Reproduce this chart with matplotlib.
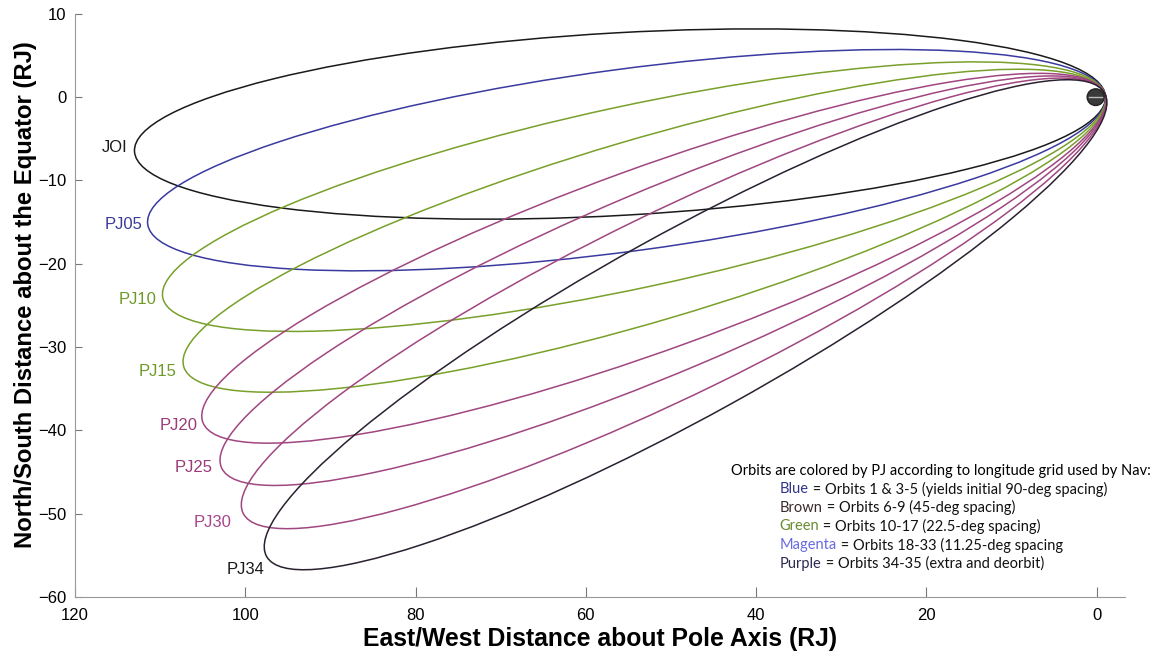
import numpy as np
import matplotlib.pyplot as plt
from matplotlib.patches import Ellipse, Circle

# orbites (apojove, perijove ~1.06 RJ)
orbit_labels = ['JOI', 'PJ05', 'PJ10', 'PJ15', 'PJ20', 'PJ25', 'PJ30', 'PJ34']
apojove_rj = [113.2, 112.5, 112.3, 112.0, 112.0, 112.0, 112.0, 112.0]
apojove_angle_deg = [3.3, 7.8, 12.4, 16.8, 20.4, 23.4, 26.5, 29.5]   # sous l'equateur
perijove_rj = 1.06

x_ticks = [120, 100, 80, 60, 40, 20, 0]
y_ticks = [-60, -50, -40, -30, -20, -10, 0, 10]

note_title = 'Orbits are colored by PJ according to longitude grid used by Nav:'
note_keys = ['Blue', 'Brown', 'Green', 'Magenta', 'Purple']
note_texts = [' = Orbits 1 & 3-5 (yields initial 90-deg spacing)',
              ' = Orbits 6-9 (45-deg spacing)',
              ' = Orbits 10-17 (22.5-deg spacing)',
              ' = Orbits 18-33 (11.25-deg spacing',
              ' = Orbits 34-35 (extra and deorbit)']

# styles
orbit_colors = ['#1a1a1a', '#3a3aa0', '#78a02a', '#78a02a', '#a04680', '#a04680', '#a04680', '#2a2030']
label_colors = ['#1a1a1a', '#3a3a9a', '#6e9a28', '#6e9a28', '#9a3a78', '#9a3a78', '#a8448a', '#1a1a1a']
label_offsets = [(-7, 3), (-5, -3), (-6, -5), (-7, -10), (-4, -10), (-7, -7), (-10, -18), (0, -23)]
key_colors = ['#33338a', '#3a2a2a', '#6a8a30', '#6a6ae0', '#2a2a50']

plt.rcParams['font.family'] = ['Liberation Sans', 'DejaVu Sans']

fig = plt.figure(figsize=(11.63, 6.59), dpi=100)
ax = fig.add_axes([0.0645, 0.094, 0.9025, 0.885])

for lab, ra, th, col, lcol, off in zip(orbit_labels, apojove_rj, apojove_angle_deg,
                                       orbit_colors, label_colors, label_offsets):
    a = (ra + perijove_rj) / 2
    c = (ra - perijove_rj) / 2
    b = np.sqrt(ra * perijove_rj)
    phi = np.radians(-th)
    cx, cy = c * np.cos(phi), c * np.sin(phi)
    ax.add_patch(Ellipse((cx, cy), 2 * a, 2 * b, angle=-th, fill=False,
                         edgecolor=col, lw=1.1))
    # point le plus a gauche (x max) pour placer l'etiquette
    t = np.arctan2(-b * np.sin(phi), a * np.cos(phi))
    xl = cx + a * np.cos(t) * np.cos(phi) - b * np.sin(t) * np.sin(phi)
    yl = cy + a * np.cos(t) * np.sin(phi) + b * np.sin(t) * np.cos(phi)
    ax.annotate(lab, (xl, yl), xytext=off, textcoords='offset pixels',
                ha='right', va='center', color=lcol, fontsize=12)

# Jupiter
ax.add_patch(Circle((0.1, 0.0), 1.0, facecolor='#3a3a3a', edgecolor='#222222', zorder=5))
ax.plot([-0.7, 0.9], [0.0, 0.0], color='#bbbbbb', lw=1.0, zorder=6)

ax.set_xlim(120, -3.3)
ax.set_ylim(-60, 10)
ax.set_xticks(x_ticks)
ax.set_yticks(y_ticks)
ax.tick_params(direction='in', labelsize=12, color='#777777')
ax.tick_params(axis='x', length=7, pad=8)
ax.tick_params(axis='y', length=5, pad=6)
for s in ['top', 'right']:
    ax.spines[s].set_visible(False)
for s in ['left', 'bottom']:
    ax.spines[s].set_color('#999999')
    ax.spines[s].set_linewidth(0.8)

ax.set_xlabel('East/West Distance about Pole Axis (RJ)', fontsize=17.8, fontweight='bold')
ax.set_ylabel('North/South Distance about the Equator (RJ)', fontsize=17.2, fontweight='bold')
ax.xaxis.set_label_coords(0.5, -0.052)
ax.yaxis.set_label_coords(-0.036, 0.518)

# note explicative
note_font = ['Lato', 'DejaVu Sans']
ax.text(0.625, 0.216, note_title, transform=ax.transAxes, fontsize=10.5,
        family=note_font, va='center', ha='left')
for i, (k, txt, kc) in enumerate(zip(note_keys, note_texts, key_colors)):
    t1 = ax.text(0.6715, 0.185 - i * 0.032, k, transform=ax.transAxes, fontsize=10.5,
                 family=note_font, va='center', ha='left', color=kc)
    ax.annotate(txt, xy=(1, 0.5), xycoords=t1, va='center', ha='left',
                fontsize=10.5, family=note_font, color='#111111')

fig.savefig('out.png', dpi=100)
